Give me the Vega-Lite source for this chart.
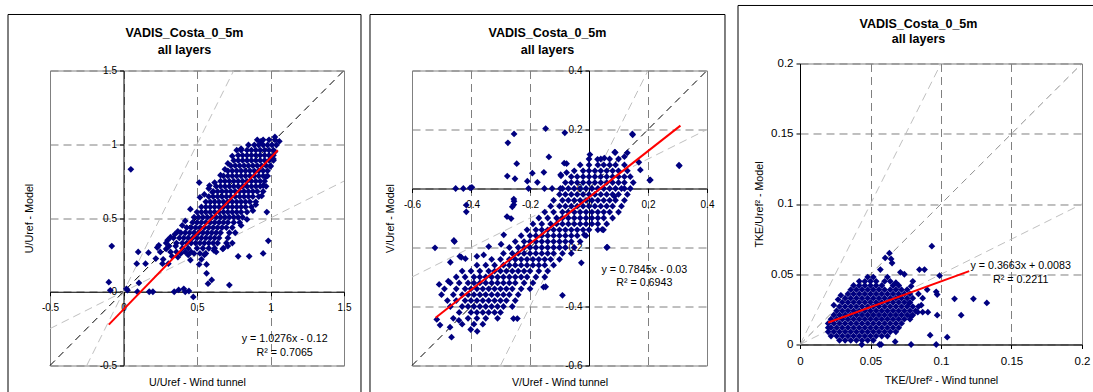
{
"$schema": "https://vega.github.io/schema/vega-lite/v6.json",
"padding": {"left": 7, "top": 4, "right": 0, "bottom": 0},
"background": "white",
"spacing": 11,
"center": true,
"align": {"row": "all", "column": "none"},
"config": {
  "font": "Liberation Sans",
  "view": {"stroke": "#808080", "strokeWidth": 1},
  "axis": {"labelFont": "Liberation Sans", "labelFontSize": 10, "labelColor": "black", "tickColor": "black", "domainColor": "black", "gridColor": "#808080", "gridDash": [8, 5], "titleFont": "Liberation Sans", "titleFontSize": 10.7, "titleFontWeight": "normal", "titleColor": "black", "labelFlush": false, "labelOverlap": false, "labelBound": false, "tickSize": 4, "grid": true},
  "axisX": {"labelPadding": 7},
  "axisY": {"labelPadding": 3}
},
"datasets": {
"u": [
{"x":0.05,"y":0.83},{"x":-0.08,"y":0.31},{"x":-0.10,"y":0.065},{"x":-0.09,"y":0.01},{"x":0.027,"y":0.011},{"x":0.02,"y":0.02},{"x":0.10,"y":0.27},{"x":0.17,"y":0.265},{"x":0.09,"y":0.19},{"x":0.15,"y":0.19},{"x":0.105,"y":0.06},{"x":0.095,"y":0.0},{"x":0.175,"y":0.0},{"x":0.20,"y":0.0},{"x":0.345,"y":0.0},{"x":0.375,"y":0.012},{"x":0.41,"y":0.02},{"x":0.42,"y":0.0},{"x":0.445,"y":0.005},{"x":0.475,"y":-0.035},{"x":0.24,"y":0.315},{"x":0.29,"y":0.29},{"x":0.22,"y":0.225},{"x":0.265,"y":0.19},{"x":0.305,"y":0.19},{"x":0.355,"y":0.31},{"x":0.37,"y":0.235},{"x":0.455,"y":0.215},{"x":0.515,"y":0.185},{"x":0.565,"y":0.185},{"x":0.565,"y":0.125},{"x":0.60,"y":0.08},{"x":0.575,"y":0.055},{"x":0.72,"y":0.045},{"x":0.78,"y":0.24},{"x":0.855,"y":0.24},{"x":0.95,"y":0.26},{"x":0.985,"y":0.345},{"x":0.975,"y":0.54},{"x":0.515,"y":0.74},{"x":0.585,"y":0.72},{"x":0.605,"y":0.675},{"x":0.935,"y":1.02},{"x":1.03,"y":1.05},{"x":1.06,"y":1.02},{"x":0.80,"y":0.97},{"x":0.615,"y":0.28},{"x":0.675,"y":0.29},{"x":0.44,"y":0.25},{"x":0.46,"y":0.27},{"x":0.25,"y":0.27},{"x":0.27,"y":0.22},{"x":0.29,"y":0.33},{"x":0.23,"y":0.30},{"x":0.32,"y":0.27},{"x":0.31,"y":0.31},{"x":0.33,"y":0.24},{"x":0.36,"y":0.27},{"x":0.39,"y":0.26},{"x":0.42,"y":0.27},{"x":0.53,"y":0.22},{"x":0.55,"y":0.25},{"x":0.63,"y":0.27},{"x":0.71,"y":0.31},{"x":0.74,"y":0.33},{"x":0.80,"y":0.45},{"x":0.84,"y":0.49},{"x":0.88,"y":0.55},{"x":0.90,"y":0.59},{"x":0.94,"y":0.65},{"x":0.95,"y":0.72},{"x":0.97,"y":0.78},{"x":1.00,"y":0.85},{"x":1.02,"y":0.90},{"x":1.03,"y":0.95},{"x":0.455,"y":0.56},{"x":0.42,"y":0.48},{"x":0.40,"y":0.45},{"x":0.37,"y":0.41},{"x":0.35,"y":0.39},{"x":0.30,"y":0.35},{"x":0.32,"y":0.37},{"x":0.52,"y":0.64},{"x":0.55,"y":0.66},{"x":0.58,"y":0.70},{"x":0.62,"y":0.74},{"x":0.66,"y":0.79},{"x":0.69,"y":0.83},{"x":0.71,"y":0.87},{"x":0.74,"y":0.92},{"x":0.77,"y":0.96},
{"x":0.48,"y":0.26},{"x":0.52,"y":0.26},{"x":0.56,"y":0.26},
{"x":0.40,"y":0.295},{"x":0.44,"y":0.295},{"x":0.50,"y":0.295},{"x":0.54,"y":0.295},{"x":0.58,"y":0.295},{"x":0.62,"y":0.295},{"x":0.68,"y":0.295},
{"x":0.36,"y":0.33},{"x":0.40,"y":0.33},{"x":0.43,"y":0.33},{"x":0.46,"y":0.33},{"x":0.49,"y":0.33},{"x":0.52,"y":0.33},{"x":0.55,"y":0.33},{"x":0.58,"y":0.33},{"x":0.61,"y":0.33},{"x":0.64,"y":0.33},{"x":0.70,"y":0.33},
{"x":0.34,"y":0.365},{"x":0.38,"y":0.365},{"x":0.41,"y":0.365},{"x":0.44,"y":0.365},{"x":0.47,"y":0.365},{"x":0.50,"y":0.365},{"x":0.53,"y":0.365},{"x":0.56,"y":0.365},{"x":0.59,"y":0.365},{"x":0.62,"y":0.365},{"x":0.65,"y":0.365},{"x":0.71,"y":0.365},
{"x":0.39,"y":0.40},{"x":0.42,"y":0.40},{"x":0.45,"y":0.40},{"x":0.48,"y":0.40},{"x":0.51,"y":0.40},{"x":0.54,"y":0.40},{"x":0.57,"y":0.40},{"x":0.60,"y":0.40},{"x":0.63,"y":0.40},{"x":0.66,"y":0.40},{"x":0.72,"y":0.40},{"x":0.76,"y":0.40},
{"x":0.43,"y":0.435},{"x":0.46,"y":0.435},{"x":0.49,"y":0.435},{"x":0.52,"y":0.435},{"x":0.55,"y":0.435},{"x":0.58,"y":0.435},{"x":0.61,"y":0.435},{"x":0.64,"y":0.435},{"x":0.67,"y":0.435},{"x":0.70,"y":0.435},{"x":0.74,"y":0.435},
{"x":0.47,"y":0.47},{"x":0.50,"y":0.47},{"x":0.53,"y":0.47},{"x":0.56,"y":0.47},{"x":0.59,"y":0.47},{"x":0.62,"y":0.47},{"x":0.65,"y":0.47},{"x":0.68,"y":0.47},{"x":0.71,"y":0.47},{"x":0.75,"y":0.47},{"x":0.79,"y":0.47},
{"x":0.48,"y":0.505},{"x":0.51,"y":0.505},{"x":0.54,"y":0.505},{"x":0.57,"y":0.505},{"x":0.60,"y":0.505},{"x":0.63,"y":0.505},{"x":0.66,"y":0.505},{"x":0.69,"y":0.505},{"x":0.72,"y":0.505},{"x":0.75,"y":0.505},{"x":0.78,"y":0.505},{"x":0.81,"y":0.505},
{"x":0.50,"y":0.54},{"x":0.53,"y":0.54},{"x":0.56,"y":0.54},{"x":0.59,"y":0.54},{"x":0.62,"y":0.54},{"x":0.65,"y":0.54},{"x":0.68,"y":0.54},{"x":0.71,"y":0.54},{"x":0.74,"y":0.54},{"x":0.77,"y":0.54},{"x":0.80,"y":0.54},{"x":0.84,"y":0.54},
{"x":0.53,"y":0.575},{"x":0.56,"y":0.575},{"x":0.59,"y":0.575},{"x":0.62,"y":0.575},{"x":0.65,"y":0.575},{"x":0.68,"y":0.575},{"x":0.71,"y":0.575},{"x":0.74,"y":0.575},{"x":0.77,"y":0.575},{"x":0.80,"y":0.575},{"x":0.83,"y":0.575},{"x":0.87,"y":0.575},
{"x":0.56,"y":0.61},{"x":0.59,"y":0.61},{"x":0.62,"y":0.61},{"x":0.65,"y":0.61},{"x":0.68,"y":0.61},{"x":0.71,"y":0.61},{"x":0.74,"y":0.61},{"x":0.77,"y":0.61},{"x":0.80,"y":0.61},{"x":0.83,"y":0.61},{"x":0.86,"y":0.61},{"x":0.90,"y":0.61},
{"x":0.58,"y":0.645},{"x":0.61,"y":0.645},{"x":0.64,"y":0.645},{"x":0.67,"y":0.645},{"x":0.70,"y":0.645},{"x":0.73,"y":0.645},{"x":0.76,"y":0.645},{"x":0.79,"y":0.645},{"x":0.82,"y":0.645},{"x":0.85,"y":0.645},{"x":0.88,"y":0.645},{"x":0.92,"y":0.645},
{"x":0.61,"y":0.68},{"x":0.64,"y":0.68},{"x":0.67,"y":0.68},{"x":0.70,"y":0.68},{"x":0.73,"y":0.68},{"x":0.76,"y":0.68},{"x":0.79,"y":0.68},{"x":0.82,"y":0.68},{"x":0.85,"y":0.68},{"x":0.88,"y":0.68},{"x":0.91,"y":0.68},{"x":0.95,"y":0.68},
{"x":0.63,"y":0.715},{"x":0.66,"y":0.715},{"x":0.69,"y":0.715},{"x":0.72,"y":0.715},{"x":0.75,"y":0.715},{"x":0.78,"y":0.715},{"x":0.81,"y":0.715},{"x":0.84,"y":0.715},{"x":0.87,"y":0.715},{"x":0.90,"y":0.715},{"x":0.93,"y":0.715},{"x":0.97,"y":0.715},
{"x":0.66,"y":0.75},{"x":0.69,"y":0.75},{"x":0.72,"y":0.75},{"x":0.75,"y":0.75},{"x":0.78,"y":0.75},{"x":0.81,"y":0.75},{"x":0.84,"y":0.75},{"x":0.87,"y":0.75},{"x":0.90,"y":0.75},{"x":0.93,"y":0.75},{"x":0.96,"y":0.75},
{"x":0.68,"y":0.785},{"x":0.71,"y":0.785},{"x":0.74,"y":0.785},{"x":0.77,"y":0.785},{"x":0.80,"y":0.785},{"x":0.83,"y":0.785},{"x":0.86,"y":0.785},{"x":0.89,"y":0.785},{"x":0.92,"y":0.785},{"x":0.95,"y":0.785},{"x":0.98,"y":0.785},
{"x":0.71,"y":0.82},{"x":0.74,"y":0.82},{"x":0.77,"y":0.82},{"x":0.80,"y":0.82},{"x":0.83,"y":0.82},{"x":0.86,"y":0.82},{"x":0.89,"y":0.82},{"x":0.92,"y":0.82},{"x":0.95,"y":0.82},{"x":0.98,"y":0.82},
{"x":0.73,"y":0.855},{"x":0.76,"y":0.855},{"x":0.79,"y":0.855},{"x":0.82,"y":0.855},{"x":0.85,"y":0.855},{"x":0.88,"y":0.855},{"x":0.91,"y":0.855},{"x":0.94,"y":0.855},{"x":0.97,"y":0.855},{"x":1.00,"y":0.855},
{"x":0.75,"y":0.89},{"x":0.78,"y":0.89},{"x":0.81,"y":0.89},{"x":0.84,"y":0.89},{"x":0.87,"y":0.89},{"x":0.90,"y":0.89},{"x":0.93,"y":0.89},{"x":0.96,"y":0.89},{"x":0.99,"y":0.89},{"x":1.02,"y":0.89},
{"x":0.78,"y":0.925},{"x":0.81,"y":0.925},{"x":0.84,"y":0.925},{"x":0.87,"y":0.925},{"x":0.90,"y":0.925},{"x":0.93,"y":0.925},{"x":0.96,"y":0.925},{"x":0.99,"y":0.925},{"x":1.02,"y":0.925},
{"x":0.80,"y":0.96},{"x":0.84,"y":0.96},{"x":0.87,"y":0.96},{"x":0.90,"y":0.96},{"x":0.93,"y":0.96},{"x":0.96,"y":0.96},{"x":0.99,"y":0.96},{"x":1.02,"y":0.96},
{"x":0.85,"y":0.995},{"x":0.89,"y":0.995},{"x":0.92,"y":0.995},{"x":0.95,"y":0.995},{"x":0.98,"y":0.995},{"x":1.01,"y":0.995},{"x":1.04,"y":0.995},
{"x":0.91,"y":1.03},{"x":0.95,"y":1.03},{"x":0.99,"y":1.03},{"x":1.03,"y":1.03}
],
"v": [
{"x":-0.452,"y":0.0},{"x":-0.426,"y":0.0},{"x":-0.403,"y":0.002},{"x":-0.397,"y":0.004},{"x":-0.416,"y":-0.056},{"x":-0.416,"y":-0.079},{"x":-0.254,"y":0.185},{"x":-0.275,"y":0.155},{"x":-0.245,"y":0.084},{"x":-0.277,"y":0.042},{"x":-0.251,"y":0.033},{"x":-0.147,"y":0.203},{"x":-0.082,"y":0.189},{"x":-0.136,"y":0.107},{"x":-0.192,"y":0.052},{"x":-0.153,"y":0.055},{"x":-0.209,"y":0.025},{"x":-0.175,"y":0.021},{"x":-0.076,"y":0.084},{"x":-0.096,"y":0.047},{"x":-0.254,"y":-0.043},{"x":-0.26,"y":-0.062},{"x":-0.522,"y":-0.201},{"x":-0.458,"y":-0.176},{"x":-0.433,"y":-0.233},{"x":-0.508,"y":-0.325},{"x":-0.477,"y":-0.314},{"x":-0.516,"y":-0.444},{"x":-0.505,"y":-0.463},{"x":-0.471,"y":-0.47},{"x":-0.466,"y":-0.504},{"x":-0.441,"y":-0.447},{"x":-0.401,"y":-0.478},{"x":-0.379,"y":-0.484},{"x":-0.256,"y":-0.441},{"x":-0.243,"y":-0.441},{"x":-0.147,"y":-0.333},{"x":-0.09,"y":-0.362},{"x":-0.026,"y":-0.252},{"x":0.062,"y":-0.199},{"x":0.045,"y":-0.139},{"x":0.147,"y":0.185},{"x":0.169,"y":0.089},{"x":0.206,"y":0.028},{"x":0.305,"y":0.079},{"x":0.003,"y":0.115},{"x":0.087,"y":0.123},{"x":0.13,"y":0.121},{"x":-0.205,"y":0.0},{"x":-0.151,"y":0.0},{"x":-0.125,"y":0.0},{"x":-0.097,"y":0.0},{"x":-0.255,"y":-0.036},{"x":-0.255,"y":-0.055},{"x":-0.278,"y":-0.095},{"x":-0.264,"y":-0.102},{"x":-0.289,"y":-0.157},{"x":-0.456,"y":-0.18},{"x":-0.298,"y":-0.189},{"x":-0.34,"y":-0.197},{"x":-0.357,"y":-0.225},{"x":-0.38,"y":-0.23},{"x":-0.438,"y":-0.23},{"x":-0.419,"y":-0.238},{"x":-0.47,"y":-0.25},{"x":-0.154,"y":-0.334},{"x":-0.084,"y":0.086},{"x":-0.076,"y":0.054},{"x":-0.095,"y":0.043},{"x":0.148,"y":0.182},{"x":0.089,"y":0.122},{"x":0.029,"y":0.099},{"x":0.052,"y":0.103},{"x":0.12,"y":0.108},{"x":0.174,"y":0.063},{"x":0.208,"y":0.029},{"x":0.306,"y":0.077},{"x":0.086,"y":-0.027},{"x":0.12,"y":0.0},{"x":0.049,"y":-0.14},{"x":0.06,"y":-0.2},{"x":-0.016,"y":-0.157},
{"x":-0.43,"y":-0.46},{"x":-0.39,"y":-0.46},{"x":-0.36,"y":-0.46},
{"x":-0.46,"y":-0.44},{"x":-0.41,"y":-0.44},{"x":-0.38,"y":-0.44},{"x":-0.35,"y":-0.44},{"x":-0.31,"y":-0.44},
{"x":-0.44,"y":-0.42},{"x":-0.40,"y":-0.42},{"x":-0.38,"y":-0.42},{"x":-0.36,"y":-0.42},{"x":-0.34,"y":-0.42},{"x":-0.32,"y":-0.42},{"x":-0.30,"y":-0.42},
{"x":-0.47,"y":-0.40},{"x":-0.43,"y":-0.40},{"x":-0.41,"y":-0.40},{"x":-0.39,"y":-0.40},{"x":-0.37,"y":-0.40},{"x":-0.35,"y":-0.40},{"x":-0.33,"y":-0.40},{"x":-0.31,"y":-0.40},{"x":-0.29,"y":-0.40},{"x":-0.26,"y":-0.40},
{"x":-0.48,"y":-0.38},{"x":-0.45,"y":-0.38},{"x":-0.42,"y":-0.38},{"x":-0.40,"y":-0.38},{"x":-0.38,"y":-0.38},{"x":-0.36,"y":-0.38},{"x":-0.34,"y":-0.38},{"x":-0.32,"y":-0.38},{"x":-0.30,"y":-0.38},{"x":-0.28,"y":-0.38},{"x":-0.25,"y":-0.38},
{"x":-0.50,"y":-0.36},{"x":-0.46,"y":-0.36},{"x":-0.43,"y":-0.36},{"x":-0.41,"y":-0.36},{"x":-0.39,"y":-0.36},{"x":-0.37,"y":-0.36},{"x":-0.35,"y":-0.36},{"x":-0.33,"y":-0.36},{"x":-0.31,"y":-0.36},{"x":-0.29,"y":-0.36},{"x":-0.27,"y":-0.36},{"x":-0.24,"y":-0.36},
{"x":-0.49,"y":-0.34},{"x":-0.45,"y":-0.34},{"x":-0.42,"y":-0.34},{"x":-0.40,"y":-0.34},{"x":-0.38,"y":-0.34},{"x":-0.36,"y":-0.34},{"x":-0.34,"y":-0.34},{"x":-0.32,"y":-0.34},{"x":-0.30,"y":-0.34},{"x":-0.28,"y":-0.34},{"x":-0.26,"y":-0.34},{"x":-0.23,"y":-0.34},{"x":-0.20,"y":-0.34},
{"x":-0.47,"y":-0.32},{"x":-0.44,"y":-0.32},{"x":-0.41,"y":-0.32},{"x":-0.39,"y":-0.32},{"x":-0.37,"y":-0.32},{"x":-0.35,"y":-0.32},{"x":-0.33,"y":-0.32},{"x":-0.31,"y":-0.32},{"x":-0.29,"y":-0.32},{"x":-0.27,"y":-0.32},{"x":-0.25,"y":-0.32},{"x":-0.22,"y":-0.32},{"x":-0.19,"y":-0.32},
{"x":-0.45,"y":-0.30},{"x":-0.42,"y":-0.30},{"x":-0.39,"y":-0.30},{"x":-0.37,"y":-0.30},{"x":-0.35,"y":-0.30},{"x":-0.33,"y":-0.30},{"x":-0.31,"y":-0.30},{"x":-0.29,"y":-0.30},{"x":-0.27,"y":-0.30},{"x":-0.25,"y":-0.30},{"x":-0.23,"y":-0.30},{"x":-0.21,"y":-0.30},{"x":-0.18,"y":-0.30},{"x":-0.15,"y":-0.30},
{"x":-0.43,"y":-0.28},{"x":-0.40,"y":-0.28},{"x":-0.37,"y":-0.28},{"x":-0.34,"y":-0.28},{"x":-0.32,"y":-0.28},{"x":-0.30,"y":-0.28},{"x":-0.28,"y":-0.28},{"x":-0.26,"y":-0.28},{"x":-0.24,"y":-0.28},{"x":-0.22,"y":-0.28},{"x":-0.20,"y":-0.28},{"x":-0.17,"y":-0.28},{"x":-0.14,"y":-0.28},
{"x":-0.38,"y":-0.26},{"x":-0.35,"y":-0.26},{"x":-0.32,"y":-0.26},{"x":-0.29,"y":-0.26},{"x":-0.27,"y":-0.26},{"x":-0.25,"y":-0.26},{"x":-0.23,"y":-0.26},{"x":-0.21,"y":-0.26},{"x":-0.19,"y":-0.26},{"x":-0.17,"y":-0.26},{"x":-0.15,"y":-0.26},{"x":-0.12,"y":-0.26},
{"x":-0.33,"y":-0.24},{"x":-0.30,"y":-0.24},{"x":-0.27,"y":-0.24},{"x":-0.25,"y":-0.24},{"x":-0.23,"y":-0.24},{"x":-0.21,"y":-0.24},{"x":-0.19,"y":-0.24},{"x":-0.17,"y":-0.24},{"x":-0.15,"y":-0.24},{"x":-0.13,"y":-0.24},{"x":-0.10,"y":-0.24},
{"x":-0.29,"y":-0.22},{"x":-0.26,"y":-0.22},{"x":-0.24,"y":-0.22},{"x":-0.22,"y":-0.22},{"x":-0.20,"y":-0.22},{"x":-0.18,"y":-0.22},{"x":-0.16,"y":-0.22},{"x":-0.14,"y":-0.22},{"x":-0.12,"y":-0.22},{"x":-0.09,"y":-0.22},{"x":-0.06,"y":-0.22},
{"x":-0.27,"y":-0.20},{"x":-0.24,"y":-0.20},{"x":-0.22,"y":-0.20},{"x":-0.20,"y":-0.20},{"x":-0.18,"y":-0.20},{"x":-0.16,"y":-0.20},{"x":-0.14,"y":-0.20},{"x":-0.12,"y":-0.20},{"x":-0.10,"y":-0.20},{"x":-0.08,"y":-0.20},{"x":-0.05,"y":-0.20},
{"x":-0.25,"y":-0.18},{"x":-0.22,"y":-0.18},{"x":-0.20,"y":-0.18},{"x":-0.18,"y":-0.18},{"x":-0.16,"y":-0.18},{"x":-0.14,"y":-0.18},{"x":-0.12,"y":-0.18},{"x":-0.10,"y":-0.18},{"x":-0.08,"y":-0.18},{"x":-0.06,"y":-0.18},{"x":-0.03,"y":-0.18},
{"x":-0.23,"y":-0.16},{"x":-0.20,"y":-0.16},{"x":-0.18,"y":-0.16},{"x":-0.16,"y":-0.16},{"x":-0.14,"y":-0.16},{"x":-0.12,"y":-0.16},{"x":-0.10,"y":-0.16},{"x":-0.08,"y":-0.16},{"x":-0.06,"y":-0.16},{"x":-0.04,"y":-0.16},{"x":-0.01,"y":-0.16},
{"x":-0.21,"y":-0.14},{"x":-0.18,"y":-0.14},{"x":-0.16,"y":-0.14},{"x":-0.14,"y":-0.14},{"x":-0.12,"y":-0.14},{"x":-0.10,"y":-0.14},{"x":-0.08,"y":-0.14},{"x":-0.06,"y":-0.14},{"x":-0.04,"y":-0.14},{"x":-0.02,"y":-0.14},{"x":0.00,"y":-0.14},{"x":0.03,"y":-0.14},
{"x":-0.19,"y":-0.12},{"x":-0.16,"y":-0.12},{"x":-0.13,"y":-0.12},{"x":-0.11,"y":-0.12},{"x":-0.09,"y":-0.12},{"x":-0.07,"y":-0.12},{"x":-0.05,"y":-0.12},{"x":-0.03,"y":-0.12},{"x":-0.01,"y":-0.12},{"x":0.01,"y":-0.12},{"x":0.03,"y":-0.12},{"x":0.06,"y":-0.12},
{"x":-0.17,"y":-0.10},{"x":-0.14,"y":-0.10},{"x":-0.11,"y":-0.10},{"x":-0.09,"y":-0.10},{"x":-0.07,"y":-0.10},{"x":-0.05,"y":-0.10},{"x":-0.03,"y":-0.10},{"x":-0.01,"y":-0.10},{"x":0.01,"y":-0.10},{"x":0.03,"y":-0.10},{"x":0.05,"y":-0.10},{"x":0.08,"y":-0.10},
{"x":-0.15,"y":-0.08},{"x":-0.12,"y":-0.08},{"x":-0.09,"y":-0.08},{"x":-0.07,"y":-0.08},{"x":-0.05,"y":-0.08},{"x":-0.03,"y":-0.08},{"x":-0.01,"y":-0.08},{"x":0.01,"y":-0.08},{"x":0.03,"y":-0.08},{"x":0.05,"y":-0.08},{"x":0.07,"y":-0.08},{"x":0.10,"y":-0.08},
{"x":-0.13,"y":-0.06},{"x":-0.10,"y":-0.06},{"x":-0.08,"y":-0.06},{"x":-0.06,"y":-0.06},{"x":-0.04,"y":-0.06},{"x":-0.02,"y":-0.06},{"x":0.00,"y":-0.06},{"x":0.02,"y":-0.06},{"x":0.04,"y":-0.06},{"x":0.06,"y":-0.06},{"x":0.08,"y":-0.06},{"x":0.11,"y":-0.06},
{"x":-0.12,"y":-0.04},{"x":-0.09,"y":-0.04},{"x":-0.07,"y":-0.04},{"x":-0.05,"y":-0.04},{"x":-0.03,"y":-0.04},{"x":-0.01,"y":-0.04},{"x":0.01,"y":-0.04},{"x":0.03,"y":-0.04},{"x":0.05,"y":-0.04},{"x":0.07,"y":-0.04},{"x":0.09,"y":-0.04},{"x":0.12,"y":-0.04},
{"x":-0.10,"y":-0.02},{"x":-0.08,"y":-0.02},{"x":-0.06,"y":-0.02},{"x":-0.04,"y":-0.02},{"x":-0.02,"y":-0.02},{"x":0.00,"y":-0.02},{"x":0.02,"y":-0.02},{"x":0.04,"y":-0.02},{"x":0.06,"y":-0.02},{"x":0.08,"y":-0.02},{"x":0.10,"y":-0.02},{"x":0.13,"y":-0.02},
{"x":-0.09,"y":0.00},{"x":-0.07,"y":0.00},{"x":-0.05,"y":0.00},{"x":-0.03,"y":0.00},{"x":-0.01,"y":0.00},{"x":0.01,"y":0.00},{"x":0.03,"y":0.00},{"x":0.05,"y":0.00},{"x":0.07,"y":0.00},{"x":0.09,"y":0.00},{"x":0.11,"y":0.00},{"x":0.14,"y":0.00},
{"x":-0.08,"y":0.02},{"x":-0.06,"y":0.02},{"x":-0.04,"y":0.02},{"x":-0.02,"y":0.02},{"x":0.00,"y":0.02},{"x":0.02,"y":0.02},{"x":0.04,"y":0.02},{"x":0.06,"y":0.02},{"x":0.08,"y":0.02},{"x":0.10,"y":0.02},{"x":0.12,"y":0.02},{"x":0.15,"y":0.02},
{"x":-0.06,"y":0.04},{"x":-0.04,"y":0.04},{"x":-0.02,"y":0.04},{"x":0.00,"y":0.04},{"x":0.02,"y":0.04},{"x":0.04,"y":0.04},{"x":0.06,"y":0.04},{"x":0.08,"y":0.04},{"x":0.10,"y":0.04},{"x":0.12,"y":0.04},{"x":0.14,"y":0.04},
{"x":-0.05,"y":0.06},{"x":-0.02,"y":0.06},{"x":0.00,"y":0.06},{"x":0.02,"y":0.06},{"x":0.04,"y":0.06},{"x":0.06,"y":0.06},{"x":0.08,"y":0.06},{"x":0.10,"y":0.06},{"x":0.13,"y":0.06},
{"x":-0.03,"y":0.08},{"x":0.00,"y":0.08},{"x":0.03,"y":0.08},{"x":0.05,"y":0.08},{"x":0.07,"y":0.08},{"x":0.09,"y":0.08},{"x":0.12,"y":0.08},
{"x":0.00,"y":0.10},{"x":0.04,"y":0.10},{"x":0.07,"y":0.10},{"x":0.10,"y":0.10}
],
"k": [
{"x":0.0935,"y":0.070},{"x":0.0634,"y":0.065},{"x":0.0604,"y":0.0616},{"x":0.0646,"y":0.0609},{"x":0.0653,"y":0.058},{"x":0.0883,"y":0.0533},{"x":0.0712,"y":0.0514},{"x":0.057,"y":0.0533},{"x":0.099,"y":0.049},{"x":0.1096,"y":0.0325},{"x":0.123,"y":0.0325},{"x":0.1325,"y":0.0296},{"x":0.1143,"y":0.0209},{"x":0.0973,"y":0.0355},{"x":0.0966,"y":0.0375},{"x":0.0973,"y":0.0209},{"x":0.0835,"y":0.023},{"x":0.087,"y":0.023},{"x":0.0907,"y":0.023},{"x":0.0923,"y":0.0066},{"x":0.1044,"y":0.0052},{"x":0.0788,"y":0.0},{"x":0.0966,"y":0.0},{"x":0.0575,"y":0.0},{"x":0.0564,"y":0.0},{"x":0.0438,"y":0.0},{"x":0.0675,"y":0.002},{"x":0.0847,"y":0.0533},{"x":0.0788,"y":0.0415},{"x":0.087,"y":0.033},{"x":0.0902,"y":0.039},{"x":0.0776,"y":0.0296},{"x":0.0788,"y":0.020},{"x":0.084,"y":0.036},{"x":0.080,"y":0.045},{"x":0.074,"y":0.050},{"x":0.068,"y":0.044},{"x":0.086,"y":0.028},{"x":0.024,"y":0.028},{"x":0.027,"y":0.032},{"x":0.029,"y":0.035},
{"x":0.028,"y":0.003},{"x":0.032,"y":0.003},{"x":0.036,"y":0.003},{"x":0.040,"y":0.003},{"x":0.044,"y":0.003},{"x":0.048,"y":0.003},{"x":0.052,"y":0.003},
{"x":0.022,"y":0.006},{"x":0.026,"y":0.006},{"x":0.030,"y":0.006},{"x":0.034,"y":0.006},{"x":0.038,"y":0.006},{"x":0.042,"y":0.006},{"x":0.046,"y":0.006},{"x":0.050,"y":0.006},{"x":0.054,"y":0.006},{"x":0.058,"y":0.006},{"x":0.062,"y":0.006},
{"x":0.020,"y":0.009},{"x":0.024,"y":0.009},{"x":0.028,"y":0.009},{"x":0.032,"y":0.009},{"x":0.036,"y":0.009},{"x":0.040,"y":0.009},{"x":0.044,"y":0.009},{"x":0.048,"y":0.009},{"x":0.052,"y":0.009},{"x":0.056,"y":0.009},{"x":0.060,"y":0.009},{"x":0.064,"y":0.009},{"x":0.068,"y":0.009},
{"x":0.020,"y":0.012},{"x":0.022,"y":0.012},{"x":0.026,"y":0.012},{"x":0.030,"y":0.012},{"x":0.034,"y":0.012},{"x":0.038,"y":0.012},{"x":0.042,"y":0.012},{"x":0.046,"y":0.012},{"x":0.050,"y":0.012},{"x":0.054,"y":0.012},{"x":0.058,"y":0.012},{"x":0.062,"y":0.012},{"x":0.066,"y":0.012},{"x":0.070,"y":0.012},
{"x":0.020,"y":0.015},{"x":0.024,"y":0.015},{"x":0.028,"y":0.015},{"x":0.032,"y":0.015},{"x":0.036,"y":0.015},{"x":0.040,"y":0.015},{"x":0.044,"y":0.015},{"x":0.048,"y":0.015},{"x":0.052,"y":0.015},{"x":0.056,"y":0.015},{"x":0.060,"y":0.015},{"x":0.064,"y":0.015},{"x":0.068,"y":0.015},{"x":0.072,"y":0.015},
{"x":0.022,"y":0.018},{"x":0.026,"y":0.018},{"x":0.030,"y":0.018},{"x":0.034,"y":0.018},{"x":0.038,"y":0.018},{"x":0.042,"y":0.018},{"x":0.046,"y":0.018},{"x":0.050,"y":0.018},{"x":0.054,"y":0.018},{"x":0.058,"y":0.018},{"x":0.062,"y":0.018},{"x":0.066,"y":0.018},{"x":0.070,"y":0.018},{"x":0.074,"y":0.018},{"x":0.078,"y":0.018},
{"x":0.024,"y":0.021},{"x":0.028,"y":0.021},{"x":0.032,"y":0.021},{"x":0.036,"y":0.021},{"x":0.040,"y":0.021},{"x":0.044,"y":0.021},{"x":0.048,"y":0.021},{"x":0.052,"y":0.021},{"x":0.056,"y":0.021},{"x":0.060,"y":0.021},{"x":0.064,"y":0.021},{"x":0.068,"y":0.021},{"x":0.072,"y":0.021},{"x":0.076,"y":0.021},{"x":0.080,"y":0.021},
{"x":0.026,"y":0.024},{"x":0.030,"y":0.024},{"x":0.034,"y":0.024},{"x":0.038,"y":0.024},{"x":0.042,"y":0.024},{"x":0.046,"y":0.024},{"x":0.050,"y":0.024},{"x":0.054,"y":0.024},{"x":0.058,"y":0.024},{"x":0.062,"y":0.024},{"x":0.066,"y":0.024},{"x":0.070,"y":0.024},{"x":0.074,"y":0.024},{"x":0.078,"y":0.024},{"x":0.082,"y":0.024},
{"x":0.028,"y":0.027},{"x":0.032,"y":0.027},{"x":0.036,"y":0.027},{"x":0.040,"y":0.027},{"x":0.044,"y":0.027},{"x":0.048,"y":0.027},{"x":0.052,"y":0.027},{"x":0.056,"y":0.027},{"x":0.060,"y":0.027},{"x":0.064,"y":0.027},{"x":0.068,"y":0.027},{"x":0.072,"y":0.027},{"x":0.076,"y":0.027},{"x":0.080,"y":0.027},{"x":0.084,"y":0.027},
{"x":0.030,"y":0.030},{"x":0.034,"y":0.030},{"x":0.038,"y":0.030},{"x":0.042,"y":0.030},{"x":0.046,"y":0.030},{"x":0.050,"y":0.030},{"x":0.054,"y":0.030},{"x":0.058,"y":0.030},{"x":0.062,"y":0.030},{"x":0.066,"y":0.030},{"x":0.070,"y":0.030},{"x":0.074,"y":0.030},{"x":0.078,"y":0.030},
{"x":0.032,"y":0.033},{"x":0.036,"y":0.033},{"x":0.040,"y":0.033},{"x":0.044,"y":0.033},{"x":0.048,"y":0.033},{"x":0.052,"y":0.033},{"x":0.056,"y":0.033},{"x":0.060,"y":0.033},{"x":0.064,"y":0.033},{"x":0.068,"y":0.033},{"x":0.072,"y":0.033},{"x":0.076,"y":0.033},{"x":0.080,"y":0.033},
{"x":0.034,"y":0.036},{"x":0.038,"y":0.036},{"x":0.042,"y":0.036},{"x":0.046,"y":0.036},{"x":0.050,"y":0.036},{"x":0.054,"y":0.036},{"x":0.058,"y":0.036},{"x":0.062,"y":0.036},{"x":0.066,"y":0.036},{"x":0.070,"y":0.036},{"x":0.074,"y":0.036},{"x":0.078,"y":0.036},
{"x":0.036,"y":0.039},{"x":0.040,"y":0.039},{"x":0.044,"y":0.039},{"x":0.048,"y":0.039},{"x":0.052,"y":0.039},{"x":0.056,"y":0.039},{"x":0.060,"y":0.039},{"x":0.064,"y":0.039},{"x":0.068,"y":0.039},{"x":0.072,"y":0.039},{"x":0.076,"y":0.039},
{"x":0.038,"y":0.042},{"x":0.042,"y":0.042},{"x":0.046,"y":0.042},{"x":0.050,"y":0.042},{"x":0.054,"y":0.042},{"x":0.058,"y":0.042},{"x":0.066,"y":0.042},{"x":0.070,"y":0.042},
{"x":0.042,"y":0.045},{"x":0.046,"y":0.045},{"x":0.050,"y":0.045},{"x":0.054,"y":0.045},{"x":0.060,"y":0.045},{"x":0.064,"y":0.045},
{"x":0.048,"y":0.048},{"x":0.052,"y":0.048},{"x":0.062,"y":0.048}
]
},
"hconcat": [
{
"spacing": 6,
"align": {"row": "all", "column": "none"},
"hconcat": [
{
 "width": 294, "height": 295,
 "title": {"text": ["VADIS_Costa_0_5m", "all layers"], "fontSize": 12.5, "fontWeight": "bold", "anchor": "middle", "frame": "bounds", "offset": -42.3, "lineHeight": 17, "color": "black"},
 "layer": [
  {"data": {"values": [{}]}, "mark": {"type": "rule", "color": "black", "strokeWidth": 1}, "encoding": {"x": {"datum": -0.7857, "type": "quantitative"}, "y": {"datum": 1.8797, "type": "quantitative"}, "y2": {"datum": -0.7644}}},
  {"data": {"values": [{}]}, "mark": {"type": "rule", "color": "black", "strokeWidth": 1}, "encoding": {"x": {"datum": -0.7857, "type": "quantitative"}, "x2": {"datum": 1.6156}, "y": {"datum": 1.8797, "type": "quantitative"}}},
  {"data": {"values": [{}]}, "mark": {"type": "rule", "color": "black", "strokeWidth": 1}, "encoding": {"x": {"datum": 1.6156, "type": "quantitative"}, "y": {"datum": 1.8797, "type": "quantitative"}, "y2": {"datum": -0.7644}}},
  {"data": {"values": [{}]}, "mark": {"type": "rule", "color": "#c0c0c0", "strokeWidth": 1, "strokeDash": [8, 5]}, "encoding": {"x": {"datum": -0.25, "type": "quantitative"}, "y": {"datum": -0.5, "type": "quantitative"}, "x2": {"datum": 0.75}, "y2": {"datum": 1.5}}},
  {"data": {"values": [{}]}, "mark": {"type": "rule", "color": "#c0c0c0", "strokeWidth": 1, "strokeDash": [8, 5]}, "encoding": {"x": {"datum": -0.5, "type": "quantitative"}, "y": {"datum": -0.25, "type": "quantitative"}, "x2": {"datum": 1.5}, "y2": {"datum": 0.75}}},
  {"data": {"values": [{}]}, "mark": {"type": "rule", "color": "black", "strokeWidth": 1, "strokeDash": [7, 5]}, "encoding": {"x": {"datum": -0.5, "type": "quantitative"}, "y": {"datum": -0.5, "type": "quantitative"}, "x2": {"datum": 1.5}, "y2": {"datum": 1.5}}},
  {"data": {"name": "u"}, "mark": {"type": "point", "shape": "diamond", "filled": true, "color": "#000080", "size": 46, "opacity": 1, "strokeWidth": 0},
   "encoding": {
    "x": {"field": "x", "type": "quantitative", "scale": {"domain": [-0.5, 1.5], "nice": false, "zero": false}, "axis": {"values": [-0.5, 0, 0.5, 1, 1.5], "offset": -73.75, "title": "U/Uref - Wind tunnel", "titleY": 90.5, "titleBaseline": "middle", "labelExpr": "'' + datum.value"}},
    "y": {"field": "y", "type": "quantitative", "scale": {"domain": [-0.5, 1.5], "nice": false, "zero": false}, "axis": {"values": [-0.5, 0, 0.5, 1, 1.5], "offset": -73.5, "title": "U/Uref - Model", "titleX": -94.5, "titleY": 147.5, "titleBaseline": "middle", "labelExpr": "'' + datum.value"}}
   }},
  {"data": {"values": [{}]}, "mark": {"type": "rule", "color": "red", "strokeWidth": 2}, "encoding": {"x": {"datum": -0.1, "type": "quantitative"}, "y": {"datum": -0.2228, "type": "quantitative"}, "x2": {"datum": 1.05}, "y2": {"datum": 0.959}}},
  {"data": {"values": [{}]}, "mark": {"type": "text", "fontSize": 10.7, "color": "black", "align": "center", "baseline": "middle"}, "encoding": {"x": {"datum": 1.0966, "type": "quantitative"}, "y": {"datum": -0.3237, "type": "quantitative"}, "text": {"value": "y = 1.0276x - 0.12"}}},
  {"data": {"values": [{}]}, "mark": {"type": "text", "fontSize": 10.7, "color": "black", "align": "center", "baseline": "middle"}, "encoding": {"x": {"datum": 1.0966, "type": "quantitative"}, "y": {"datum": -0.4166, "type": "quantitative"}, "text": {"value": "R² = 0.7065"}}}
 ]
},
{
 "width": 295, "height": 295,
 "title": {"text": ["VADIS_Costa_0_5m", "all layers"], "fontSize": 12.5, "fontWeight": "bold", "anchor": "middle", "frame": "bounds", "offset": -42.3, "lineHeight": 17, "color": "black"},
 "layer": [
  {"data": {"values": [{}]}, "mark": {"type": "rule", "color": "black", "strokeWidth": 1}, "encoding": {"x": {"datum": -0.7424, "type": "quantitative"}, "y": {"datum": 0.5898, "type": "quantitative"}, "y2": {"datum": -0.7322}}},
  {"data": {"values": [{}]}, "mark": {"type": "rule", "color": "black", "strokeWidth": 1}, "encoding": {"x": {"datum": -0.7424, "type": "quantitative"}, "x2": {"datum": 0.461}, "y": {"datum": 0.5898, "type": "quantitative"}}},
  {"data": {"values": [{}]}, "mark": {"type": "rule", "color": "black", "strokeWidth": 1}, "encoding": {"x": {"datum": 0.461, "type": "quantitative"}, "y": {"datum": 0.5898, "type": "quantitative"}, "y2": {"datum": -0.7322}}},
  {"data": {"values": [{}]}, "mark": {"type": "rule", "color": "#c0c0c0", "strokeWidth": 1, "strokeDash": [8, 5]}, "encoding": {"x": {"datum": -0.3, "type": "quantitative"}, "y": {"datum": -0.6, "type": "quantitative"}, "x2": {"datum": 0.2}, "y2": {"datum": 0.4}}},
  {"data": {"values": [{}]}, "mark": {"type": "rule", "color": "#c0c0c0", "strokeWidth": 1, "strokeDash": [8, 5]}, "encoding": {"x": {"datum": -0.6, "type": "quantitative"}, "y": {"datum": -0.3, "type": "quantitative"}, "x2": {"datum": 0.4}, "y2": {"datum": 0.2}}},
  {"data": {"values": [{}]}, "mark": {"type": "rule", "color": "black", "strokeWidth": 1, "strokeDash": [7, 5]}, "encoding": {"x": {"datum": -0.6, "type": "quantitative"}, "y": {"datum": -0.6, "type": "quantitative"}, "x2": {"datum": 0.4}, "y2": {"datum": 0.4}}},
  {"data": {"name": "v"}, "mark": {"type": "point", "shape": "diamond", "filled": true, "color": "#000080", "size": 46, "opacity": 1, "strokeWidth": 0},
   "encoding": {
    "x": {"field": "x", "type": "quantitative", "scale": {"domain": [-0.6, 0.4], "nice": false, "zero": false}, "axis": {"values": [-0.6, -0.4, -0.2, 0, 0.2, 0.4], "offset": -177, "title": "V/Uref - Wind tunnel", "titleY": 193.7, "titleBaseline": "middle", "labelExpr": "'' + datum.value"}},
    "y": {"field": "y", "type": "quantitative", "scale": {"domain": [-0.6, 0.4], "nice": false, "zero": false}, "axis": {"values": [-0.6, -0.4, -0.2, 0, 0.2, 0.4], "offset": -177, "title": "V/Uref - Model", "titleX": -198.3, "titleY": 147.5, "titleBaseline": "middle", "labelExpr": "'' + datum.value"}}
   }},
  {"data": {"values": [{}]}, "mark": {"type": "rule", "color": "red", "strokeWidth": 2}, "encoding": {"x": {"datum": -0.52, "type": "quantitative"}, "y": {"datum": -0.4379, "type": "quantitative"}, "x2": {"datum": 0.31}, "y2": {"datum": 0.2132}}},
  {"data": {"values": [{}]}, "mark": {"type": "text", "fontSize": 10.7, "color": "black", "align": "center", "baseline": "middle"}, "encoding": {"x": {"datum": 0.1875, "type": "quantitative"}, "y": {"datum": -0.2746, "type": "quantitative"}, "text": {"value": "y = 0.7845x - 0.03"}}},
  {"data": {"values": [{}]}, "mark": {"type": "text", "fontSize": 10.7, "color": "black", "align": "center", "baseline": "middle"}, "encoding": {"x": {"datum": 0.1875, "type": "quantitative"}, "y": {"datum": -0.322, "type": "quantitative"}, "text": {"value": "R² = 0.6943"}}}
 ]
}
]
},
{
 "width": 282, "height": 281,
 "title": {"text": ["VADIS_Costa_0_5m", "all layers"], "fontSize": 12.5, "fontWeight": "bold", "anchor": "middle", "frame": "bounds", "offset": -40.1, "dx": 3, "lineHeight": 15, "color": "black"},
 "layer": [
  {"data": {"values": [{}]}, "mark": {"type": "rule", "color": "black", "strokeWidth": 1}, "encoding": {"x": {"datum": -0.04397, "type": "quantitative"}, "y": {"datum": 0.2413, "type": "quantitative"}, "y2": {"datum": -0.04769}}},
  {"data": {"values": [{}]}, "mark": {"type": "rule", "color": "black", "strokeWidth": 1}, "encoding": {"x": {"datum": -0.04397, "type": "quantitative"}, "x2": {"datum": 0.2078}, "y": {"datum": 0.2413, "type": "quantitative"}}},
  {"data": {"values": [{}]}, "mark": {"type": "rule", "color": "#c0c0c0", "strokeWidth": 1, "strokeDash": [8, 5]}, "encoding": {"x": {"datum": 0, "type": "quantitative"}, "y": {"datum": 0, "type": "quantitative"}, "x2": {"datum": 0.1}, "y2": {"datum": 0.2}}},
  {"data": {"values": [{}]}, "mark": {"type": "rule", "color": "#c0c0c0", "strokeWidth": 1, "strokeDash": [8, 5]}, "encoding": {"x": {"datum": 0, "type": "quantitative"}, "y": {"datum": 0, "type": "quantitative"}, "x2": {"datum": 0.2}, "y2": {"datum": 0.1}}},
  {"data": {"values": [{}]}, "mark": {"type": "rule", "color": "#909090", "strokeWidth": 1, "strokeDash": [7, 5]}, "encoding": {"x": {"datum": 0, "type": "quantitative"}, "y": {"datum": 0, "type": "quantitative"}, "x2": {"datum": 0.2}, "y2": {"datum": 0.2}}},
  {"data": {"name": "k"}, "mark": {"type": "point", "shape": "diamond", "filled": true, "color": "#000080", "size": 46, "opacity": 1, "strokeWidth": 0},
   "encoding": {
    "x": {"field": "x", "type": "quantitative", "scale": {"domain": [0, 0.2], "nice": false, "zero": false}, "axis": {"values": [0, 0.05, 0.1, 0.15, 0.2], "title": "TKE/Uref² - Wind tunnel", "titleY": 36.3, "titleBaseline": "middle", "labelFontSize": 11.5, "labelExpr": "'' + datum.value"}},
    "y": {"field": "y", "type": "quantitative", "scale": {"domain": [0, 0.2], "nice": false, "zero": false}, "axis": {"values": [0, 0.05, 0.1, 0.15, 0.2], "title": "TKE/Uref² - Model", "titleX": -41, "titleY": 140.5, "titleBaseline": "middle", "labelFontSize": 11.5, "labelExpr": "'' + datum.value"}}
   }},
  {"data": {"values": [{}]}, "mark": {"type": "rule", "color": "red", "strokeWidth": 2}, "encoding": {"x": {"datum": 0.02, "type": "quantitative"}, "y": {"datum": 0.01563, "type": "quantitative"}, "x2": {"datum": 0.12}, "y2": {"datum": 0.05226}}},
  {"data": {"values": [{}]}, "mark": {"type": "text", "fontSize": 10.7, "color": "black", "align": "center", "baseline": "middle"}, "encoding": {"x": {"datum": 0.1565, "type": "quantitative"}, "y": {"datum": 0.0562, "type": "quantitative"}, "text": {"value": "y = 0.3663x + 0.0083"}}},
  {"data": {"values": [{}]}, "mark": {"type": "text", "fontSize": 10.7, "color": "black", "align": "center", "baseline": "middle"}, "encoding": {"x": {"datum": 0.1565, "type": "quantitative"}, "y": {"datum": 0.0458, "type": "quantitative"}, "text": {"value": "R² = 0.2211"}}}
 ]
}
]
}
